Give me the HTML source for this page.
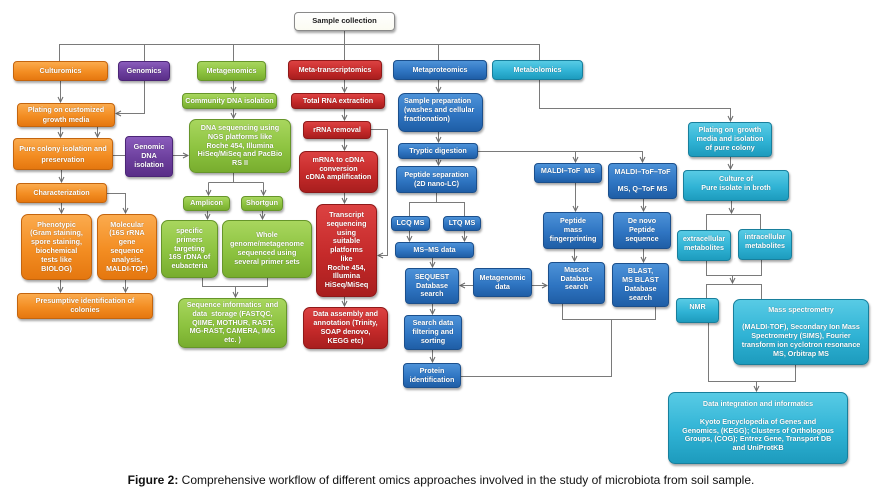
<!DOCTYPE html>
<html><head><meta charset="utf-8">
<style>
html,body{margin:0;padding:0;background:#fff;}
#c{position:relative;width:882px;height:497px;overflow:hidden;background:#fff;}
svg{position:absolute;left:0;top:0;}
.b{position:absolute;box-sizing:border-box;display:flex;align-items:center;justify-content:center;text-align:center;color:#fff;font-family:"Liberation Sans",Arial,sans-serif;font-weight:bold;font-size:7.2px;line-height:8.8px;border-radius:4px;border:1px solid;box-shadow:1px 2px 2px rgba(0,0,0,.35);text-shadow:0 0 1px rgba(0,0,0,.4);white-space:nowrap;}
.r{border-radius:7px;}
.o{background:linear-gradient(#fbab4e,#f38d22 55%,#e5770f);border-color:#c4650e;}
.p{background:linear-gradient(#8a5cbc,#6c3f9d 55%,#5a2e88);border-color:#4b2576;}
.g{background:linear-gradient(#a8d65e,#8dc340 55%,#78ad2e);border-color:#66952a;}
.d{background:linear-gradient(#dc4242,#c52a2a 55%,#a81e1e);border-color:#8f1919;}
.u{background:linear-gradient(#4d92d8,#2f75c2 55%,#1f5ea6);border-color:#1b4f8c;}
.y{background:linear-gradient(#58cbe5,#30b3d5 55%,#1d9bbd);border-color:#187f9c;}
.w{background:linear-gradient(#ffffff,#fbfbf2);border-color:#8a8a8a;color:#222;text-shadow:none;font-size:7.6px;}
#cap{position:absolute;left:0;top:473px;width:882px;text-align:center;font-family:"Liberation Sans",Arial,sans-serif;font-size:12px;line-height:14px;color:#111;white-space:nowrap;}
</style></head><body><div id="c">
<svg width="882" height="497" viewBox="0 0 882 497">
<defs><marker id="a" markerWidth="7" markerHeight="7" refX="6" refY="3.5" orient="auto" markerUnits="userSpaceOnUse"><path d="M1,1 L6,3.5 L1,6" fill="none" stroke="#666" stroke-width="1"/></marker></defs>
<g fill="none" stroke="#7a7a7a" stroke-width="1">
<path d="M59.5 61 V44.5 H539.5 V60"/>
<path d="M144.5 44 V61"/><path d="M233.5 44 V61"/><path d="M344.5 31 V60"/><path d="M438.5 44 V60"/>
<path d="M113 155.5 H125"/>
<path d="M233.5 173 V182.5"/><path d="M208.5 182.5 H263.5"/>
<path d="M202.5 278 V286.5 H267.5 V278"/>
<path d="M436.5 193 V202.5"/><path d="M409.5 216 V202.5 H464.5 V216"/>
<path d="M461 376.5 H611.5 V319.5"/><path d="M562.5 304 V319.5 H655.5 V307"/>
<path d="M706.5 230 V214.5 H760.5 V229"/>
<path d="M706.5 261 V275.5 H761.5 V260"/>
<path d="M706.5 298 V284.5 H761.5 V299"/>
<path d="M708.5 323 V381.5 H795.5 V365"/>
</g>
<g fill="none" stroke="#7a7a7a" stroke-width="1" marker-end="url(#a)">
<path d="M60.5 81 V102"/>
<path d="M144.5 81 V113.5 H116"/>
<path d="M60.5 127 V137"/><path d="M97.5 127 V137"/>
<path d="M173 155.5 H188"/>
<path d="M233.5 81 V92"/><path d="M233.5 109 V118"/>
<path d="M61.5 170 V182"/>
<path d="M107 193.5 H125.5 V213"/>
<path d="M61.5 203 V213"/>
<path d="M60.5 280 V292"/><path d="M125.5 280 V292"/>
<path d="M208.5 182.5 V195"/><path d="M263.5 182.5 V195"/>
<path d="M207.5 211 V219"/><path d="M262.5 211 V219"/>
<path d="M235.5 286.5 V297"/>
<path d="M344.5 80 V92"/><path d="M344.5 109 V120"/><path d="M344.5 139 V150"/>
<path d="M371 129.5 H387.5 V255.5 H378"/>
<path d="M344.5 193 V203"/><path d="M344.5 297 V306"/>
<path d="M438.5 80 V92"/><path d="M438.5 132 V142"/><path d="M438.5 159 V165"/>
<path d="M478 151.5 H642.5 V162"/><path d="M575.5 151.5 V162"/>
<path d="M409.5 231 V241"/><path d="M464.5 231 V241"/>
<path d="M432.5 258 V267"/>
<path d="M473 285.5 H460"/><path d="M532 285.5 H547"/>
<path d="M432.5 304 V314"/><path d="M432.5 350 V362"/>
<path d="M575.5 183 V211"/><path d="M643.5 199 V211"/>
<path d="M574.5 249 V261"/><path d="M643.5 249 V262"/>
<path d="M539.5 80 V108.5 H730.5 V121"/>
<path d="M730.5 157 V169"/>
<path d="M731.5 201 V213"/>
<path d="M732.5 275.5 V283"/>
<path d="M756.5 381.5 V391"/>
</g>
</svg>

<div class="b w" style="left:294px;top:12px;width:101px;height:19px;">Sample collection</div>

<div class="b o" style="left:13px;top:61px;width:95px;height:20px;">Culturomics</div>
<div class="b o" style="left:17px;top:103px;width:98px;height:24px;line-height:10.5px;">Plating on customized<br>growth media</div>
<div class="b o" style="left:13px;top:138px;width:100px;height:32px;line-height:11px;">Pure colony isolation and<br>preservation</div>
<div class="b o" style="left:16px;top:183px;width:91px;height:20px;">Characterization</div>
<div class="b o r" style="left:21px;top:214px;width:71px;height:66px;">Phenotypic<br>(Gram staining,<br>spore staining,<br>biochemical<br>tests like<br>BIOLOG)</div>
<div class="b o r" style="left:97px;top:214px;width:60px;height:66px;">Molecular<br>(16S rRNA<br>gene<br>sequence<br>analysis,<br>MALDI-TOF)</div>
<div class="b o" style="left:17px;top:293px;width:136px;height:26px;">Presumptive identification of<br>colonies</div>

<div class="b p" style="left:118px;top:61px;width:52px;height:20px;">Genomics</div>
<div class="b p" style="left:125px;top:136px;width:48px;height:41px;">Genomic<br>DNA<br>isolation</div>

<div class="b g" style="left:197px;top:61px;width:69px;height:20px;">Metagenomics</div>
<div class="b g" style="left:182px;top:93px;width:95px;height:16px;">Community DNA isolation</div>
<div class="b g r" style="left:189px;top:119px;width:102px;height:54px;">DNA sequencing using<br>NGS platforms like<br>Roche 454, Illumina<br>HiSeq/MiSeq and PacBio<br>RS II</div>
<div class="b g" style="left:183px;top:196px;width:47px;height:15px;">Amplicon</div>
<div class="b g" style="left:241px;top:196px;width:42px;height:15px;">Shortgun</div>
<div class="b g r" style="left:161px;top:220px;width:57px;height:58px;">specific<br>primers<br>targeting<br>16S rDNA of<br>eubacteria</div>
<div class="b g r" style="left:222px;top:220px;width:90px;height:58px;">Whole<br>genome/metagenome<br>sequenced using<br>several primer sets</div>
<div class="b g r" style="left:178px;top:298px;width:109px;height:50px;">Sequence informatics &nbsp;and<br>data &nbsp;storage (FASTQC,<br>QIIME, MOTHUR, RAST,<br>MG-RAST, CAMERA, IMG<br>etc. )</div>

<div class="b d" style="left:288px;top:60px;width:94px;height:20px;">Meta-transcriptomics</div>
<div class="b d" style="left:291px;top:93px;width:94px;height:16px;">Total RNA extraction</div>
<div class="b d" style="left:303px;top:121px;width:68px;height:18px;">rRNA removal</div>
<div class="b d r" style="left:299px;top:151px;width:79px;height:42px;padding-bottom:6px;">mRNA to cDNA<br>conversion<br>cDNA amplification</div>
<div class="b d r" style="left:316px;top:204px;width:61px;height:93px;">Transcript<br>sequencing<br>using<br>suitable<br>platforms<br>like<br>Roche 454,<br>Illumina<br>HiSeq/MiSeq</div>
<div class="b d r" style="left:303px;top:307px;width:85px;height:42px;">Data assembly and<br>annotation (Trinity,<br>SOAP denovo,<br>KEGG etc)</div>

<div class="b u" style="left:393px;top:60px;width:94px;height:20px;">Metaproteomics</div>
<div class="b u r" style="left:398px;top:93px;width:85px;height:39px;justify-content:flex-start;text-align:left;padding-left:5px;padding-bottom:4px;">Sample preparation<br>(washes and cellular<br>fractionation)</div>
<div class="b u" style="left:398px;top:143px;width:80px;height:16px;">Tryptic digestion</div>
<div class="b u" style="left:396px;top:166px;width:81px;height:27px;">Peptide separation<br>(2D nano-LC)</div>
<div class="b u" style="left:391px;top:216px;width:39px;height:15px;">LCQ MS</div>
<div class="b u" style="left:443px;top:216px;width:38px;height:15px;">LTQ MS</div>
<div class="b u" style="left:395px;top:242px;width:79px;height:16px;">MS–MS data</div>
<div class="b u" style="left:405px;top:268px;width:54px;height:36px;">SEQUEST<br>Database<br>search</div>
<div class="b u" style="left:473px;top:268px;width:59px;height:29px;">Metagenomic<br>data</div>
<div class="b u" style="left:404px;top:315px;width:58px;height:35px;">Search data<br>filtering and<br>sorting</div>
<div class="b u" style="left:403px;top:363px;width:58px;height:25px;">Protein<br>identification</div>
<div class="b u" style="left:534px;top:163px;width:68px;height:20px;padding-bottom:3px;">MALDI–ToF &nbsp;MS</div>
<div class="b u" style="left:608px;top:163px;width:69px;height:36px;">MALDI–ToF–ToF<br>&nbsp;<br>MS, Q–ToF MS</div>
<div class="b u" style="left:543px;top:212px;width:60px;height:37px;">Peptide<br>mass<br>fingerprinting</div>
<div class="b u" style="left:613px;top:212px;width:58px;height:37px;">De novo<br>Peptide<br>sequence</div>
<div class="b u" style="left:548px;top:262px;width:57px;height:42px;padding-bottom:8px;">Mascot<br>Database<br>search</div>
<div class="b u" style="left:612px;top:263px;width:57px;height:44px;">BLAST,<br>MS BLAST<br>Database<br>search</div>

<div class="b y" style="left:492px;top:60px;width:91px;height:20px;">Metabolomics</div>
<div class="b y" style="left:688px;top:122px;width:84px;height:35px;">Plating on &nbsp;growth<br>media and isolation<br>of pure colony</div>
<div class="b y" style="left:683px;top:170px;width:106px;height:31px;padding-bottom:4px;">Culture of<br>Pure isolate in broth</div>
<div class="b y" style="left:677px;top:230px;width:54px;height:31px;padding-bottom:4px;">extracellular<br>metabolites</div>
<div class="b y" style="left:738px;top:229px;width:54px;height:31px;padding-bottom:5px;">intracellular<br>metabolites</div>
<div class="b y" style="left:676px;top:298px;width:43px;height:25px;padding-bottom:6px;">NMR</div>
<div class="b y r" style="left:733px;top:299px;width:136px;height:66px;">Mass spectrometry<br>&nbsp;<br>(MALDI-TOF), Secondary Ion Mass<br>Spectrometry (SIMS), Fourier<br>transform ion cyclotron resonance<br>MS, Orbitrap MS</div>
<div class="b y r" style="left:668px;top:392px;width:180px;height:72px;padding-bottom:3px;">Data integration and informatics<br>&nbsp;<br>Kyoto Encyclopedia of Genes and<br>Genomics, (KEGG); Clusters of Orthologous<br>Groups, (COG); Entrez Gene, Transport DB<br>and UniProtKB</div>

<div id="cap"><b>Figure 2:</b> Comprehensive workflow of different omics approaches involved in the study of microbiota from soil sample.</div>
</div></body></html>
